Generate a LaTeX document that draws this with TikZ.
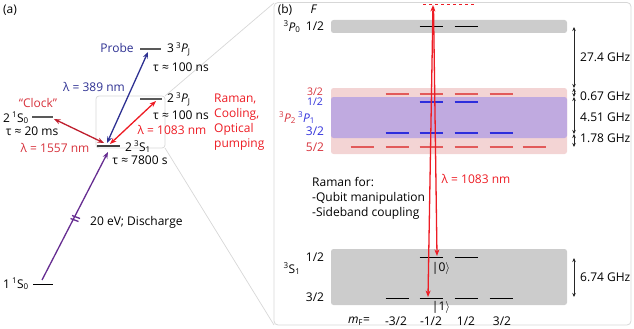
\documentclass[tikz,border=0pt]{standalone}
\usepackage{fontspec}
\setmainfont{Open Sans}
\usetikzlibrary{arrows.meta,calc}
\definecolor{cblue}{RGB}{46,49,146}
\definecolor{cdred}{RGB}{190,30,45}
\definecolor{cred}{RGB}{237,28,36}
\definecolor{cpurp}{RGB}{102,45,145}
\definecolor{bandgray}{RGB}{204,204,204}
\definecolor{pinkband}{RGB}{243,212,212}
\definecolor{purpband}{RGB}{192,170,224}
\definecolor{dashred}{RGB}{226,90,90}
\definecolor{dashblue}{RGB}{45,45,220}
\definecolor{lblred}{RGB}{215,50,60}
\definecolor{lblblue}{RGB}{50,50,220}
\definecolor{framegray}{RGB}{215,215,215}
\begin{document}
\begin{tikzpicture}[x=1pt,y=-1pt,
  every node/.style={font=\fontsize{12}{15}\selectfont, inner sep=0pt},
  small/.style={font=\fontsize{10.5}{12}\selectfont},
  >={Stealth[length=6.5pt,width=5pt]},
  lvl/.style={line width=1.8pt, draw=black!65},
  thinlvl/.style={line width=0.9pt, draw=black},
  conn/.style={line width=1.3pt},
  band/.style={rounded corners=2.5pt},
  ghz/.style={<->, >={Stealth[length=4pt,width=3.5pt]}, line width=0.7pt, draw=black!85},
  zoomline/.style={draw=framegray, line width=0.7pt},
  dashR/.style={draw=dashred, line width=1.1pt},
  dashB/.style={draw=dashblue, line width=1.1pt},
  blk/.style={draw=black, line width=0.9pt}
]
\useasboundingbox (0,0) rectangle (634,329);

% ---------- panel (a) ----------
\node (la) at (10,10) {(a)};

% zoom box and zoom lines
\draw[zoomline, rounded corners=3pt] (96,96) rectangle (165,148);
\coordinate (zbtr) at (165,96);
\coordinate (zbbr) at (165,148);
\coordinate (pbtl) at (274,3);
\coordinate (pbbl) at (274,325);
\draw[zoomline] (zbtr) -- (pbtl);
\draw[zoomline] (zbbr) -- (pbbl);

% levels
\draw[thinlvl] (33,284) -- (53,284);
\draw[lvl] (32,117) -- (53,117);
\draw[lvl, draw=black!75] (97,146) -- (120,146);
\draw[lvl] (140,49) -- (161,49);
\draw[lvl] (140,99) -- (162,99);

% arrow end points
\coordinate (g0) at (42,280);
\coordinate (s3a) at (108,152);
\coordinate (s1a) at (54,119);
\coordinate (s3b) at (104,143);
\coordinate (p3a) at (148,52);
\coordinate (s3c) at (107,143);
\coordinate (p2a) at (156,101);
\coordinate (s3d) at (110,144);

\draw[conn, draw=cpurp, ->] (g0) -- (s3a);
\draw[conn, draw=cpurp] (70.5,218.5) -- (78.5,221.5);
\draw[conn, draw=cpurp] (72,215.5) -- (80,218.5);
\draw[conn, draw=cdred, <->] (s1a) -- (s3b);
\draw[conn, draw=cblue, <->] (p3a) -- (s3c);
\draw[conn, draw=cred, <->] (p2a) -- (s3d);

% labels (a)
\node[text=cblue] (probe) at (117,48) {Probe};
\node[anchor=west] (p3lbl) at (167,49) {3\,\textsuperscript{3}\textit{P}\textsubscript{J}};
\node (p3tau) at (181,67) {τ ≈ 100 ns};
\node[text=cblue] (l389) at (94,87) {λ = 389 nm};
\node[anchor=west] (p2lbl) at (167,99) {2\,\textsuperscript{3}\textit{P}\textsubscript{J}};
\node (p2tau) at (181,115) {τ ≈ 100 ns};
\node[text=cred] (l1083a) at (172,130) {λ = 1083 nm};
\node[text=cred, anchor=north west, align=left] (raman) at (214,94) {Raman,\\Cooling,\\Optical\\pumping};
\node[text=lblred] (clock) at (38,103) {“Clock”};
\node (s1lbl) at (16,118) {2\,\textsuperscript{1}S\textsubscript{0}};
\node (s1tau) at (32,131) {τ ≈ 20 ms};
\node[text=lblred] (l1557) at (55,148) {λ = 1557 nm};
\node[anchor=west] (s3lbl) at (125,147) {2\,\textsuperscript{3}S\textsubscript{1}};
\node (s3tau) at (140,160) {τ ≈ 7800 s};
\node[anchor=west] (disc) at (90,222) {20 eV; Discharge};
\node (g0lbl) at (16,284) {1\,\textsuperscript{1}S\textsubscript{0}};

% ---------- panel (b) ----------
\draw[draw=framegray, line width=0.8pt, rounded corners=4pt] (274,2.5) rectangle (631,325);
\node (lb) at (285,10) {(b)};
\node (Flbl) at (314,9) {\textit{F}};

% bands
\fill[bandgray, band] (331,20) rectangle (567,33);
\fill[pinkband, band] (331,88) rectangle (567,154);
\fill[purpband, band] (331,97) rectangle (567,138);
\fill[bandgray, band] (331,249) rectangle (567,305);

% sublevels: m_F centres -5/2..5/2 : 362,397,431,466,501,534
\foreach \c in {431,466} \draw[blk] (\c-11.5,26) -- (\c+11.5,26);
\foreach \c in {397,431,466,501} \draw[dashR] (\c-11.5,94) -- (\c+11.5,94);
\foreach \c in {431,466} \draw[dashB] (\c-11.5,102) -- (\c+11.5,102);
\foreach \c in {397,431,466,501} \draw[dashB] (\c-11.5,133) -- (\c+11.5,133);
\foreach \c in {362,397,431,466,501,534} \draw[dashR] (\c-11.5,147) -- (\c+11.5,147);
\foreach \c in {431,466} \draw[blk] (\c-11.5,257) -- (\c+11.5,257);
\foreach \c in {397,431,466,501} \draw[blk] (\c-11.5,298) -- (\c+11.5,298);

% virtual level
\draw[draw=cred, dashed, dash pattern=on 3pt off 3pt, line width=0.8pt] (423,4.5) -- (476,4.5);

% Raman beams
\coordinate (virt) at (433,5);
\coordinate (virt2) at (433.5,7);
\coordinate (ket1) at (428,297);
\coordinate (ket0) at (437,256);
\draw[conn, draw=cred, <->] (ket1) -- (virt);
\draw[conn, draw=cred, ->] (virt2) -- (ket0);

% labels (b)
\node (p0lbl) at (292,27) {\textsuperscript{3}\textit{P}\textsubscript{0}};
\node (p0F) at (315,26) {1/2};
\node[text=lblred, small] (p2F32) at (315,91.5) {3/2};
\node[text=lblblue, small] (p1F12) at (315,102) {1/2};
\node (p21lbl) at (297,118) {\textcolor{lblred}{\textsuperscript{3}\textit{P}\textsubscript{2}}\,\textcolor{lblblue}{\textsuperscript{3}\textit{P}\textsubscript{1}}};
\node[text=lblblue] (p1F32) at (315,131) {3/2};
\node[text=lblred] (p2F52) at (315,147) {5/2};
\node (s1F12) at (315,257) {1/2};
\node (s1blbl) at (292,269) {\textsuperscript{3}S\textsubscript{1}};
\node (s1F32) at (315,297) {3/2};
\node (ketzero) at (441,268) {|0$\rangle$};
\node (ketone) at (441,307) {|1$\rangle$};

\node (mF) at (359,321) {\textit{m}\textsubscript{F}=};
\node (m1) at (396,321) {-3/2};
\node (m2) at (431,321) {-1/2};
\node (m3) at (466,321) {1/2};
\node (m4) at (502,321) {3/2};

\node[text=cred] (l1083b) at (476,179) {λ = 1083 nm};
\node[anchor=north west, align=left] (ramanfor) at (312,177) {Raman for:\\-Qubit manipulation\\-Sideband coupling};

% frequency intervals
\coordinate (f0) at (574,27);
\coordinate (f1) at (574,88);
\coordinate (f2) at (574,97);
\coordinate (f3) at (574,134);
\coordinate (f4) at (574,147);
\coordinate (f5) at (574,258);
\coordinate (f6) at (574,297);
\draw[ghz] (f0) -- (f1);
\draw[ghz] (f1) -- (f2);
\draw[ghz] (f2) -- (f3);
\draw[ghz] (f3) -- (f4);
\draw[ghz] (f5) -- (f6);
\node[anchor=west] (g274) at (580,57) {27.4 GHz};
\node[anchor=west] (g067) at (580,96) {0.67 GHz};
\node[anchor=west] (g451) at (580,117) {4.51 GHz};
\node[anchor=west] (g178) at (580,138) {1.78 GHz};
\node[anchor=west] (g674) at (580,277) {6.74 GHz};
\end{tikzpicture}
\end{document}
